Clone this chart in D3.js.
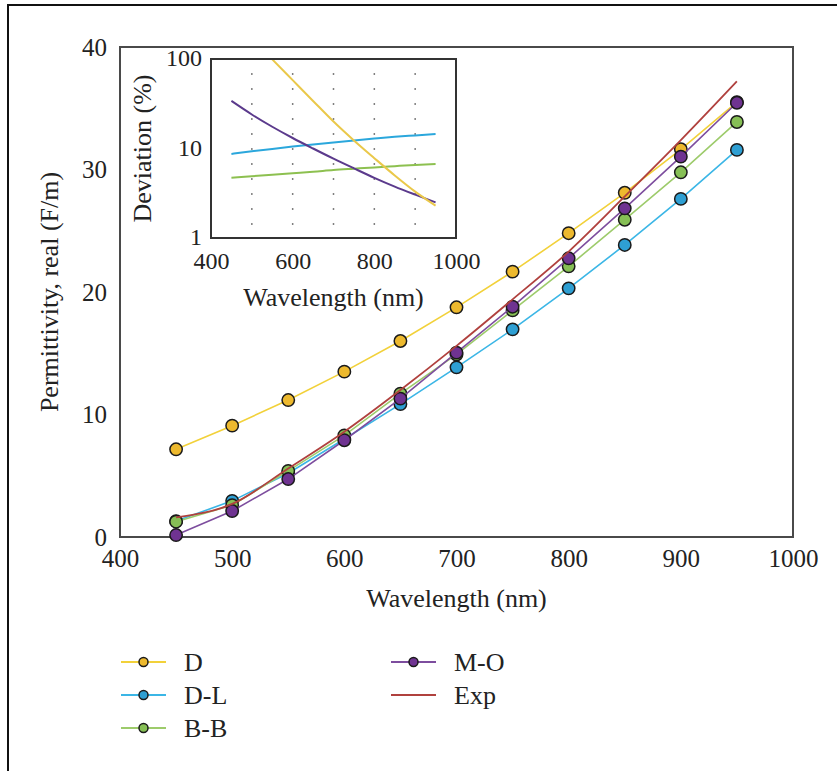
<!DOCTYPE html>
<html>
<head>
<meta charset="utf-8">
<script src="https://cdn.jsdelivr.net/npm/d3@7"></script>
<style>
  body { margin: 0; background: #fff; }
  svg { display: block; }
  text { font-family: "Liberation Serif", "DejaVu Serif", serif; fill: #222; }
</style>
</head>
<body>
<svg id="chart" width="837" height="771"></svg>
<script>
// wavelengths (nm)
var wavelengths = [450, 500, 550, 600, 650, 700, 750, 800, 850, 900, 950];

// real permittivity, main plot
var permD  = [7.16, 9.09, 11.18, 13.5, 16.0, 18.75, 21.66, 24.8, 28.1, 31.65, 35.5];
var permDL = [1.3, 2.95, 5.2, 8.0, 10.85, 13.85, 16.95, 20.3, 23.84, 27.6, 31.6];
var permBB = [1.25, 2.6, 5.4, 8.3, 11.7, 14.9, 18.5, 22.1, 25.9, 29.77, 33.88];
var permMO = [0.16, 2.12, 4.73, 7.9, 11.3, 15.05, 18.8, 22.75, 26.83, 31.05, 35.45];
var permExp = [1.6, 2.7, 5.6, 8.6, 12.0, 15.6, 19.4, 23.3, 27.8, 32.4, 37.2];

// deviation (%), inset
var devD  = [300, 170, 99, 58, 34, 20, 12.3, 7.8, 5.0, 3.3, 2.3];
var devDL = [8.7, 9.3, 9.9, 10.5, 11.1, 11.7, 12.3, 12.9, 13.5, 14.0, 14.5];
var devBB = [4.7, 4.9, 5.1, 5.3, 5.5, 5.75, 5.95, 6.15, 6.35, 6.55, 6.7];
var devMO = [34, 24, 17.5, 13.1, 10, 7.7, 6.0, 4.7, 3.75, 3.05, 2.5];

var mainXTicks = [400, 500, 600, 700, 800, 900, 1000];
var mainYTicks = [0, 10, 20, 30, 40];
var insetXTicks = [400, 600, 800, 1000];
var insetYTicks = [1, 10, 100];
var insetGrid = [500, 600, 700, 800, 900];

var svg = d3.select("svg#chart");

// outer frame (cut off at right and bottom)
svg.append("path")
   .attr("d", "M8,771 V5 H837")
   .attr("fill", "none")
   .attr("stroke", "#111")
   .attr("stroke-width", 2);

// ---- main plot
var x = d3.scaleLinear().domain([400, 1000]).range([120, 793]);
var y = d3.scaleLinear().domain([0, 40]).range([537, 47]);

svg.append("g")
   .attr("transform", "translate(0,537)")
   .call(d3.axisBottom(x).tickValues(mainXTicks).tickSize(0).tickPadding(12).tickFormat(d3.format("d")))
   .call(function(g) { g.select(".domain").remove(); })
   .selectAll("text").style("font-size", "25px").style("font-family", "Liberation Serif").attr("fill", "#222");

svg.append("g")
   .attr("transform", "translate(120,0)")
   .call(d3.axisLeft(y).tickValues(mainYTicks).tickSize(0).tickPadding(13))
   .call(function(g) { g.select(".domain").remove(); })
   .selectAll("text").style("font-size", "25px").style("font-family", "Liberation Serif").attr("fill", "#222");

svg.append("rect")
   .attr("x", x(400)).attr("y", y(40))
   .attr("width", x(1000) - x(400)).attr("height", y(0) - y(40))
   .attr("fill", "none").attr("stroke", "#4a4a4a").attr("stroke-width", 2);

svg.append("text")
   .attr("x", (x(400) + x(1000)) / 2).attr("y", 607)
   .attr("text-anchor", "middle").style("font-size", "26px")
   .text("Wavelength (nm)");

svg.append("text")
   .attr("transform", "translate(58," + ((y(0) + y(40)) / 2) + ") rotate(-90)")
   .attr("text-anchor", "middle").style("font-size", "26px")
   .text("Permittivity, real (F/m)");

var mainSeries = [
  { name: "D",   values: permD,  line: "#f2d13a", fill: "#edb92e" },
  { name: "D-L", values: permDL, line: "#3bb6e6", fill: "#2e9fd3" },
  { name: "B-B", values: permBB, line: "#9dcb6b", fill: "#86bf55" },
  { name: "M-O", values: permMO, line: "#7d4d9e", fill: "#6f3391" }
];

var mainLine = d3.line()
  .x(function(d, i) { return x(wavelengths[i]); })
  .y(function(d) { return y(d); });

mainSeries.forEach(function(s) {
  svg.append("path")
     .datum(s.values)
     .attr("d", mainLine)
     .attr("fill", "none")
     .attr("stroke", s.line)
     .attr("stroke-width", 1.6);
  svg.selectAll("circle.m-" + s.name)
     .data(s.values)
     .enter().append("circle")
     .attr("cx", function(d, i) { return x(wavelengths[i]); })
     .attr("cy", function(d) { return y(d); })
     .attr("r", 6.2)
     .attr("fill", s.fill)
     .attr("stroke", "#1a1a1a")
     .attr("stroke-width", 1.5);
});

svg.append("path")
   .datum(permExp)
   .attr("d", mainLine.curve(d3.curveMonotoneX))
   .attr("fill", "none")
   .attr("stroke", "#b0413e")
   .attr("stroke-width", 1.8);

// ---- inset
var xi = d3.scaleLinear().domain([400, 1000]).range([211, 456]);
var yi = d3.scaleLog().domain([1, 100]).range([238, 59]);

svg.append("rect")
   .attr("x", xi(400)).attr("y", yi(100))
   .attr("width", xi(1000) - xi(400)).attr("height", yi(1) - yi(100))
   .attr("fill", "#fff");

svg.append("clipPath").attr("id", "insetClip")
   .append("rect")
   .attr("x", xi(400)).attr("y", yi(100))
   .attr("width", xi(1000) - xi(400)).attr("height", yi(1) - yi(100));

svg.selectAll("line.grid")
   .data(insetGrid)
   .enter().append("line")
   .attr("class", "grid")
   .attr("x1", function(d) { return xi(d); })
   .attr("x2", function(d) { return xi(d); })
   .attr("y1", yi(100)).attr("y2", yi(1))
   .attr("stroke", "#555")
   .attr("stroke-width", 1.5)
   .attr("stroke-dasharray", "1.5,13.5")
   .attr("stroke-dashoffset", -14.25);

var insetSeries = [
  { values: devDL, color: "#2ba7dc" },
  { values: devBB, color: "#8dc050" },
  { values: devMO, color: "#5b3a8c" },
  { values: devD,  color: "#eac84a" }
];

var insetLine = d3.line()
  .curve(d3.curveMonotoneX)
  .x(function(d, i) { return xi(wavelengths[i]); })
  .y(function(d) { return yi(d); });

insetSeries.forEach(function(s) {
  svg.append("path")
     .datum(s.values)
     .attr("d", insetLine)
     .attr("clip-path", "url(#insetClip)")
     .attr("fill", "none")
     .attr("stroke", s.color)
     .attr("stroke-width", 2);
});

svg.append("rect")
   .attr("x", xi(400)).attr("y", yi(100))
   .attr("width", xi(1000) - xi(400)).attr("height", yi(1) - yi(100))
   .attr("fill", "none").attr("stroke", "#333").attr("stroke-width", 2);

svg.append("g")
   .attr("transform", "translate(0," + yi(1) + ")")
   .call(d3.axisBottom(xi).tickValues(insetXTicks).tickSize(0).tickPadding(14).tickFormat(d3.format("d")))
   .call(function(g) { g.select(".domain").remove(); })
   .selectAll("text").style("font-size", "24px").style("font-family", "Liberation Serif").attr("fill", "#222");

svg.append("g")
   .attr("transform", "translate(" + xi(400) + ",0)")
   .call(d3.axisLeft(yi).tickValues(insetYTicks).tickSize(0).tickPadding(9).tickFormat(d3.format("d")))
   .call(function(g) { g.select(".domain").remove(); })
   .selectAll("text").style("font-size", "24px").style("font-family", "Liberation Serif").attr("fill", "#222")
   .attr("dy", "0.28em");

svg.append("text")
   .attr("x", (xi(400) + xi(1000)) / 2).attr("y", 306)
   .attr("text-anchor", "middle").style("font-size", "26px")
   .text("Wavelength (nm)");

svg.append("text")
   .attr("transform", "translate(151," + ((yi(1) + yi(100)) / 2) + ") rotate(-90)")
   .attr("text-anchor", "middle").style("font-size", "26px")
   .text("Deviation (%)");

// ---- legend
var legendItems = [
  { name: "D",   line: "#f2d13a", fill: "#edb92e", col: 0, row: 0 },
  { name: "D-L", line: "#3bb6e6", fill: "#2e9fd3", col: 0, row: 1 },
  { name: "B-B", line: "#9dcb6b", fill: "#86bf55", col: 0, row: 2 },
  { name: "M-O", line: "#7d4d9e", fill: "#6f3391", col: 1, row: 0 },
  { name: "Exp", line: "#b0413e", fill: null,      col: 1, row: 1 }
];

var legend = svg.selectAll("g.legend")
  .data(legendItems)
  .enter().append("g")
  .attr("class", "legend")
  .attr("transform", function(d) {
    return "translate(" + (d.col === 0 ? 121 : 391) + "," + (662 + d.row * 33) + ")";
  });

legend.append("line")
  .attr("x1", 0).attr("x2", 45)
  .attr("stroke", function(d) { return d.line; })
  .attr("stroke-width", 2);

legend.filter(function(d) { return d.fill; })
  .append("circle")
  .attr("cx", 22.5).attr("r", 4.5)
  .attr("fill", function(d) { return d.fill; })
  .attr("stroke", "#1a1a1a").attr("stroke-width", 1.5);

legend.append("text")
  .attr("x", 63).attr("dy", "0.35em")
  .style("font-size", "26px")
  .text(function(d) { return d.name; });
</script>
</body>
</html>
